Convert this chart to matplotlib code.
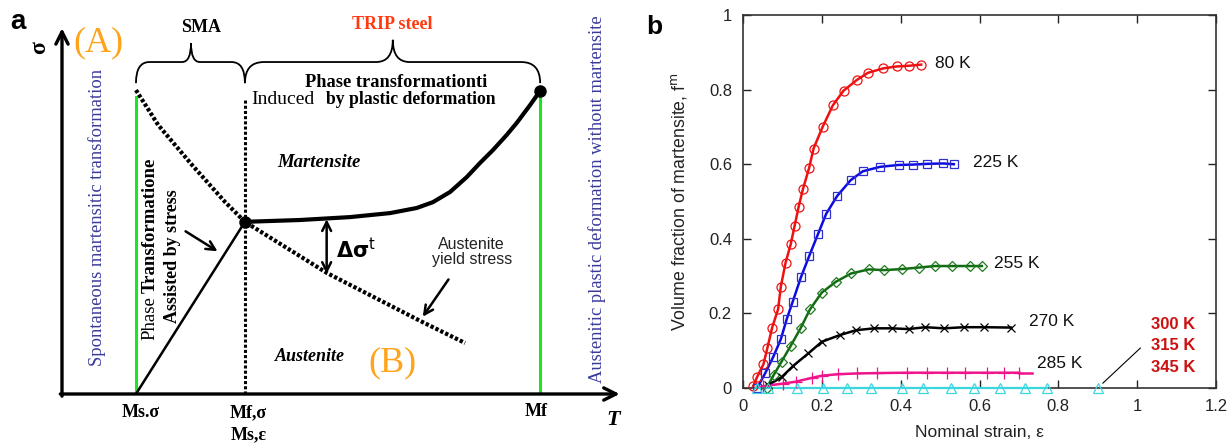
import matplotlib
matplotlib.use("Agg")
import matplotlib.pyplot as plt
from matplotlib.path import Path
from matplotlib.patches import PathPatch

SERIF = "Liberation Serif"
SANS = "Liberation Sans"

# ---- panel a: schematic stress-temperature diagram (arbitrary units, 0-100) ----
T_ms_sigma = 13.3
T_mf_sigma = 32.9
T_mf = 86.0
green_left_top = 81.6
green_right_top = 83.3
dotted_vert_top = 81.2

yield_T = [13.3, 17.3, 23.4, 29.3, 32.9, 47.7, 64.4, 72.5]
yield_sigma = [83.5, 73.9, 62.9, 52.8, 47.3, 33.2, 20.1, 14.0]

mart_T = [32.9, 42.8, 51.8, 59.0, 63.8, 66.7, 69.8, 72.8, 75.2, 77.5, 80.0, 81.8, 84.2, 86.0]
mart_sigma = [47.3, 47.8, 48.6, 49.7, 51.1, 52.7, 55.5, 59.6, 63.5, 67.0, 71.2, 74.5, 79.4, 83.3]

ramp_T = [13.3, 32.9]
ramp_sigma = [0.0, 47.3]

# ---- panel b: volume fraction of martensite vs nominal strain ----
strain_80 = [0.026, 0.036, 0.052, 0.062, 0.074, 0.089, 0.096, 0.108, 0.121, 0.131, 0.141, 0.152,
             0.168, 0.179, 0.202, 0.228, 0.255, 0.289, 0.317, 0.356, 0.390, 0.422, 0.452]
frac_80 = [0.005, 0.030, 0.064, 0.108, 0.162, 0.211, 0.272, 0.336, 0.385, 0.435, 0.485, 0.533,
           0.591, 0.642, 0.700, 0.758, 0.797, 0.826, 0.845, 0.857, 0.862, 0.864, 0.867]

strain_225 = [0.036, 0.056, 0.077, 0.096, 0.111, 0.126, 0.147, 0.168, 0.190, 0.211, 0.239,
              0.273, 0.304, 0.348, 0.395, 0.432, 0.468, 0.508, 0.535]
frac_225 = [0.0, 0.039, 0.084, 0.131, 0.185, 0.231, 0.297, 0.354, 0.412, 0.467, 0.515,
            0.557, 0.581, 0.593, 0.598, 0.599, 0.601, 0.602, 0.600]

strain_255 = [0.060, 0.078, 0.098, 0.121, 0.146, 0.170, 0.200, 0.236, 0.274, 0.319, 0.358,
              0.404, 0.447, 0.487, 0.530, 0.576, 0.606]
frac_255 = [0.0, 0.035, 0.071, 0.113, 0.160, 0.211, 0.256, 0.285, 0.307, 0.318, 0.316,
            0.319, 0.323, 0.327, 0.327, 0.327, 0.327]

strain_270 = [0.064, 0.098, 0.128, 0.166, 0.200, 0.246, 0.287, 0.333, 0.377, 0.420, 0.462,
              0.510, 0.561, 0.612, 0.680]
frac_270 = [0.008, 0.029, 0.060, 0.093, 0.124, 0.142, 0.155, 0.160, 0.160, 0.158, 0.163,
            0.160, 0.163, 0.163, 0.162]

strain_285 = [0.052, 0.102, 0.134, 0.174, 0.200, 0.241, 0.289, 0.340, 0.416, 0.467, 0.517,
              0.563, 0.620, 0.661, 0.701]
frac_285 = [0.005, 0.012, 0.017, 0.027, 0.033, 0.037, 0.039, 0.040, 0.041, 0.041, 0.041,
            0.041, 0.041, 0.041, 0.041]
fit_end_285 = 0.733  # fitted line runs a little past the last measurement

strain_300 = [0.036, 0.064, 0.137, 0.203, 0.264, 0.325, 0.404, 0.457, 0.528, 0.586, 0.652,
              0.716, 0.772]
frac_300 = [0.0] * len(strain_300)
strain_345 = [0.901]
frac_345 = [0.0]

x_ticks = [0, 0.2, 0.4, 0.6, 0.8, 1.0, 1.2]
x_ticklabels = ["0", "0.2", "0.4", "0.6", "0.8", "1", "1.2"]
y_ticks = [0, 0.2, 0.4, 0.6, 0.8, 1.0]
y_ticklabels = ["0", "0.2", "0.4", "0.6", "0.8", "1"]


def brace(ax, x0, x1, xc, y_end, y_mid, y_tip, rx_end, rx_tip, **kw):
    verts = [(x0, y_end), (x0, y_mid), (x0 + rx_end, y_mid),
             (xc - rx_tip, y_mid), (xc, y_mid), (xc, y_tip),
             (xc, y_mid), (xc + rx_tip, y_mid),
             (x1 - rx_end, y_mid), (x1, y_mid), (x1, y_end)]
    codes = [Path.MOVETO, Path.CURVE3, Path.CURVE3, Path.LINETO, Path.CURVE3, Path.CURVE3,
             Path.CURVE3, Path.CURVE3, Path.LINETO, Path.CURVE3, Path.CURVE3]
    ax.add_patch(PathPatch(Path(verts, codes), fill=False, clip_on=False, **kw))


fig = plt.figure(figsize=(12.31, 4.45), dpi=100)

# ---------------- panel a ----------------
ax = fig.add_axes([62 / 1231, 51 / 445, 556 / 1231, 364 / 445])
ax.set_xlim(0, 100)
ax.set_ylim(0, 100)
ax.axis("off")

arrow_kw = dict(arrowstyle="->", lw=2.4, color="black", mutation_scale=22, shrinkA=0, shrinkB=0)
ax.annotate("", xy=(0, 100.5), xytext=(0, -0.6), arrowprops=arrow_kw, annotation_clip=False)
ax.annotate("", xy=(100.3, 0), xytext=(-0.3, 0), arrowprops=arrow_kw, annotation_clip=False)

green = "#22e322"
ax.plot([T_ms_sigma, T_ms_sigma], [0, green_left_top], color=green, lw=2.2)
ax.plot([T_mf, T_mf], [0, green_right_top], color=green, lw=2.2)
ax.plot([T_mf_sigma, T_mf_sigma], [0, dotted_vert_top], color="black", lw=2.2, ls=(0, (1, 0.7)))

ax.plot(yield_T, yield_sigma, color="black", lw=3.0, ls=(0, (0.8, 0.5)))
ax.plot(mart_T, mart_sigma, color="black", lw=3.0, solid_capstyle="round",
        solid_joinstyle="round")
ax.plot(ramp_T, ramp_sigma, color="black", lw=1.8)
ax.plot([mart_T[0], mart_T[-1]], [mart_sigma[0], mart_sigma[-1]], "o", color="black", ms=8,
        clip_on=False)

brace(ax, T_ms_sigma, T_mf_sigma, 23.2, 85.4, 91.2, 96.4, 2.4, 1.6, color="black", lw=1.3)
brace(ax, T_mf_sigma, T_mf, 59.5, 85.4, 91.2, 97.3, 3.4, 3.0, color="black", lw=1.3)

ax.text(25.0, 100.8, "SMA", fontfamily=SERIF, fontweight="bold", fontsize=13,
        ha="center", va="center")
ax.text(59.4, 101.4, "TRIP steel", fontfamily=SERIF, fontweight="bold", fontsize=13,
        color="#ff3a10", ha="center", va="center")
ax.text(60.1, 85.7, "Phase transformationti", fontfamily=SERIF, fontweight="bold", fontsize=13.2,
        ha="center", va="center")
ax.text(34.0, 80.8, "Induced", fontfamily=SERIF, fontsize=14, ha="left", va="center")
ax.text(47.4, 80.8, "by plastic deformation", fontfamily=SERIF, fontweight="bold", fontsize=12.7,
        ha="left", va="center")
ax.text(46.2, 63.5, "Martensite", fontfamily=SERIF, fontweight="bold", style="italic",
        fontsize=13.5, ha="center", va="center")
ax.text(44.6, 10.4, "Austenite", fontfamily=SERIF, fontweight="bold", style="italic",
        fontsize=13, ha="center", va="center")

orange = "#ffa31a"
ax.text(6.5, 96.4, "(A)", fontfamily=SERIF, fontsize=26, color=orange, ha="center", va="center")
ax.text(59.5, 8.5, "(B)", fontfamily=SERIF, fontsize=26, color=orange, ha="center", va="center")

ax.text(-4.0, 95.3, "σ", fontfamily=SERIF, fontweight="bold", fontsize=17, rotation=90,
        ha="center", va="center")

blue_txt = "#3a3a9c"
ax.text(6.3, 48.4, "Spontaneous martensitic transformation", fontfamily=SERIF, fontsize=13.4,
        color=blue_txt, rotation=90, ha="center", va="center")
ax.text(96.2, 53.6, "Austenitic plastic deformation without martensite", fontfamily=SERIF,
        fontsize=13.3, color=blue_txt, rotation=90, ha="center", va="center")

ax.text(15.8, 20.9, "Phase", fontfamily=SERIF, fontsize=13.5, rotation=90, ha="center",
        va="center")
ax.text(15.8, 46.4, "Transformatione", fontfamily=SERIF, fontweight="bold", fontsize=13.5,
        rotation=90, ha="center", va="center")
ax.text(19.8, 37.9, "Assisted by stress", fontfamily=SERIF, fontweight="bold", fontsize=13,
        rotation=90, ha="center", va="center")

ax.annotate("", xy=(28.4, 38.8), xytext=(21.8, 45.1),
            arrowprops=dict(arrowstyle="->", lw=1.8, color="black", mutation_scale=16))
ax.annotate("", xy=(47.6, 33.0), xytext=(47.6, 48.0),
            arrowprops=dict(arrowstyle="<->", lw=1.8, color="black", mutation_scale=16,
                            shrinkA=0, shrinkB=0))
ax.text(49.3, 39.6, r"$\mathbf{\Delta\sigma}^{\mathrm{t}}$", fontsize=15, ha="left", va="center")
ax.text(73.7, 39.0, "Austenite\nyield stress", fontfamily=SANS, fontsize=11.5, ha="center",
        va="center", linespacing=1.05, color="#222222")
ax.annotate("", xy=(64.6, 20.6), xytext=(69.8, 32.1),
            arrowprops=dict(arrowstyle="->", lw=1.8, color="black", mutation_scale=16))

tick_kw = dict(fontfamily=SERIF, fontweight="bold", fontsize=13, ha="center", va="center")
ax.text(14.2, -5.2, "Ms.σ", **tick_kw)
ax.text(33.5, -5.2, "Mf,σ", **tick_kw)
ax.text(33.5, -11.3, "Ms,ε", **tick_kw)
ax.text(85.3, -4.9, "Mf", **tick_kw)
ax.text(99.1, -7.1, "T", fontfamily=SERIF, fontweight="bold", style="italic", fontsize=16,
        ha="center", va="center")

fig.text(18 / 1231, 1 - 22 / 445, "a", fontfamily=SANS, fontweight="bold", fontsize=20,
         ha="center", va="center")

# ---------------- panel b ----------------
bx = fig.add_axes([743 / 1231, 57 / 445, 473 / 1231, 373 / 445])
bx.set_xlim(0, 1.2)
bx.set_ylim(0, 1)

series = [
    (strain_80, frac_80, "#ee1111", "#ee1111", "o", 6.5),
    (strain_225, frac_225, "#0c0ce0", "#3030d0", "s", 6),
    (strain_255, frac_255, "#126b12", "#1f7a1f", "D", 4.6),
    (strain_270, frac_270, "#000000", "#000000", "x", 6.3),
    (strain_285, frac_285, "#f0148c", "#f0148c", "+", 8.5),
]
for xs, ys, lc, mc, mk, ms in series:
    bx.plot(xs, ys, color=lc, lw=1.8, zorder=3)
    bx.plot(xs, ys, ls="none", marker=mk, ms=ms, mfc="none", mec=mc, mew=0.9, zorder=4,
            clip_on=False)
bx.plot([strain_285[-1], fit_end_285], [frac_285[-1], frac_285[-1]], color="#f0148c", lw=1.8,
        zorder=3)

cyan = "#3cd6e0"
bx.plot(strain_300, frac_300, color=cyan, lw=1.6, zorder=3, clip_on=False)
bx.plot(strain_300 + strain_345, frac_300 + frac_345, ls="none", marker="^", ms=7, mfc="none",
        mec=cyan, mew=0.9, zorder=4, clip_on=False)
bx.plot([0.913, 1.008], [0.013, 0.107], color="black", lw=0.8)

lab_kw = dict(fontfamily=SANS, fontsize=12.5, ha="left", va="center", color="#111111")
bx.text(0.487, 0.869, "80 K", **lab_kw)
bx.text(0.584, 0.604, "225 K", **lab_kw)
bx.text(0.636, 0.335, "255 K", **lab_kw)
bx.text(0.725, 0.177, "270 K", **lab_kw)
bx.text(0.745, 0.067, "285 K", **lab_kw)
hot_kw = dict(fontfamily=SANS, fontsize=12, fontweight="bold", ha="right", va="center",
              color="#cc1111")
bx.text(1.148, 0.169, "300 K", **hot_kw)
bx.text(1.148, 0.113, "315 K", **hot_kw)
bx.text(1.148, 0.056, "345 K", **hot_kw)

bx.set_xticks(x_ticks)
bx.set_xticklabels(x_ticklabels)
bx.set_yticks(y_ticks)
bx.set_yticklabels(y_ticklabels)
bx.tick_params(direction="in", length=6, width=1, top=True, right=True, pad=8,
               labelsize=12, labelcolor="#222222", color="#222222")
for lab in bx.get_xticklabels() + bx.get_yticklabels():
    lab.set_fontfamily(SANS)
for sp in bx.spines.values():
    sp.set_color("#333333")
    sp.set_linewidth(1.2)

bx.set_xlabel("Nominal strain, ε", fontfamily=SANS, fontsize=12.5, color="#222222", labelpad=8)
bx.set_ylabel("Volume fraction of martensite, f$^{\\mathrm{m}}$", fontfamily=SANS, fontsize=12.8,
              color="#222222", labelpad=14)

fig.text(654 / 1231, 1 - 27 / 445, "b", fontfamily=SANS, fontweight="bold", fontsize=19,
         ha="center", va="center")

fig.savefig("out.png", dpi=100)
